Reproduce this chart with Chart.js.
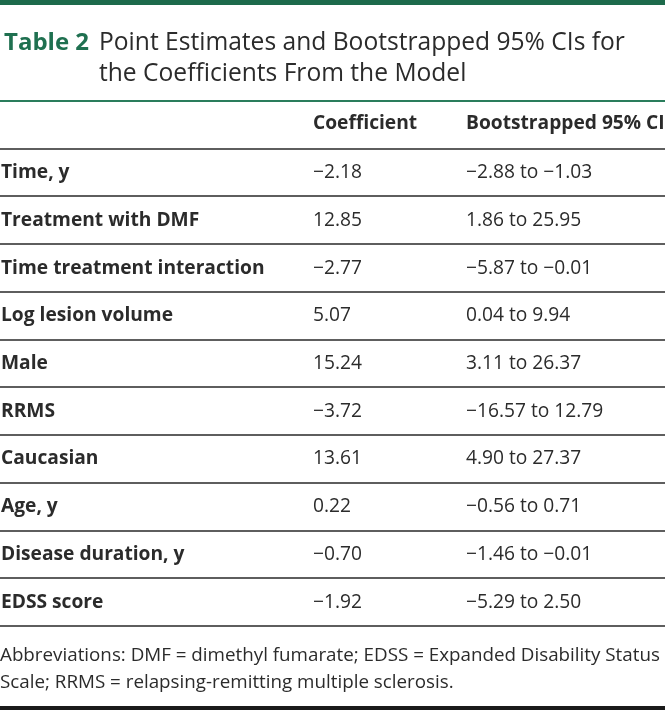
<!DOCTYPE html>
<html>
<head>
<meta charset="utf-8">
<script src="https://cdn.jsdelivr.net/npm/chart.js@4.4.1/dist/chart.umd.min.js"></script>
<style>
    html, body { margin: 0; padding: 0; background: #fff; }
    #wrap { width: 665px; height: 710px; }
</style>
</head>
<body>
<div id="wrap"><canvas id="table" width="665" height="710"></canvas></div>
<script>
const titleLabel = 'Table 2';
const titleLines = ['Point Estimates and Bootstrapped 95% CIs for', 'the Coefficients From the Model'];
const headers = ['', 'Coefficient', 'Bootstrapped 95% CI'];
const variables = [
    'Time, y',
    'Treatment with DMF',
    'Time treatment interaction',
    'Log lesion volume',
    'Male',
    'RRMS',
    'Caucasian',
    'Age, y',
    'Disease duration, y',
    'EDSS score'
];
const coefficients = [-2.18, 12.85, -2.77, 5.07, 15.24, -3.72, 13.61, 0.22, -0.70, -1.92];
const ciLower = [-2.88, 1.86, -5.87, 0.04, 3.11, -16.57, 4.90, -0.56, -1.46, -5.29];
const ciUpper = [-1.03, 25.95, -0.01, 9.94, 26.37, 12.79, 27.37, 0.71, -0.01, 2.50];
const footnoteLines = [
    'Abbreviations: DMF = dimethyl fumarate; EDSS = Expanded Disability Status',
    'Scale; RRMS = relapsing-remitting multiple sclerosis.'
];

const GREEN = '#1f7050';
const TEXT = '#2b2b2b';
const FONT = '"Open Sans", "Noto Sans", sans-serif';
const colX = [1, 313, 466];

// minus sign like the journal uses
const fmt = v => (v < 0 ? '\u2212' : '') + Math.abs(v).toFixed(2);

const tablePlugin = {
    id: 'tableText',
    afterDraw(chart) {
        const ctx = chart.ctx;
        const y = chart.scales.y;
        ctx.save();

        // top band
        ctx.fillStyle = '#1d6a4b';
        ctx.fillRect(0, 0, chart.width, 5);

        // title
        ctx.textBaseline = 'alphabetic';
        ctx.textAlign = 'left';
        ctx.font = 'bold 24px ' + FONT;
        ctx.fillStyle = GREEN;
        ctx.fillText(titleLabel, 4, 50);
        ctx.font = '24.6px ' + FONT;
        ctx.fillStyle = TEXT;
        titleLines.forEach((t, i) => ctx.fillText(t, 99, 50 + i * 31));

        // header + rows
        ctx.textBaseline = 'middle';
        ctx.font = 'bold 19.2px ' + FONT;
        headers.forEach((h, c) => ctx.fillText(h, colX[c], y.getPixelForValue(0) - 1));
        variables.forEach((name, i) => {
            const py = y.getPixelForValue(i + 1);
            ctx.font = 'bold 19.2px ' + FONT;
            ctx.fillText(name, colX[0], py);
            ctx.font = '19.2px ' + FONT;
            ctx.fillText(fmt(coefficients[i]), colX[1], py);
            ctx.fillText(fmt(ciLower[i]) + ' to ' + fmt(ciUpper[i]), colX[2], py);
        });

        // footnote
        ctx.textBaseline = 'alphabetic';
        ctx.font = '18.8px ' + FONT;
        footnoteLines.forEach((t, i) => ctx.fillText(t, 0, 661 + i * 27));

        // bottom rule
        ctx.fillStyle = '#1a1a1a';
        ctx.fillRect(0, 706, chart.width, 4);
        ctx.restore();
    }
};

new Chart(document.getElementById('table'), {
    type: 'bar',
    data: {
        labels: ['header'].concat(variables),
        datasets: [{
            label: 'Coefficient',
            data: [null].concat(coefficients),
            backgroundColor: 'rgba(0,0,0,0)'
        }]
    },
    options: {
        indexAxis: 'y',
        responsive: false,
        devicePixelRatio: 1,
        animation: false,
        events: [],
        layout: { padding: { top: 101, bottom: 84, left: 0, right: 0 } },
        plugins: { legend: { display: false }, tooltip: { enabled: false } },
        scales: {
            x: { display: false },
            y: {
                offset: true,
                afterFit: s => { s.width = 0; },
                ticks: { display: false },
                border: { display: false },
                grid: {
                    offset: true,
                    drawTicks: false,
                    color: c => c.index === 0 ? '#2a7d5c' : '#5e5e5e',
                    lineWidth: 2
                }
            }
        }
    },
    plugins: [tablePlugin]
});
</script>
</body>
</html>
